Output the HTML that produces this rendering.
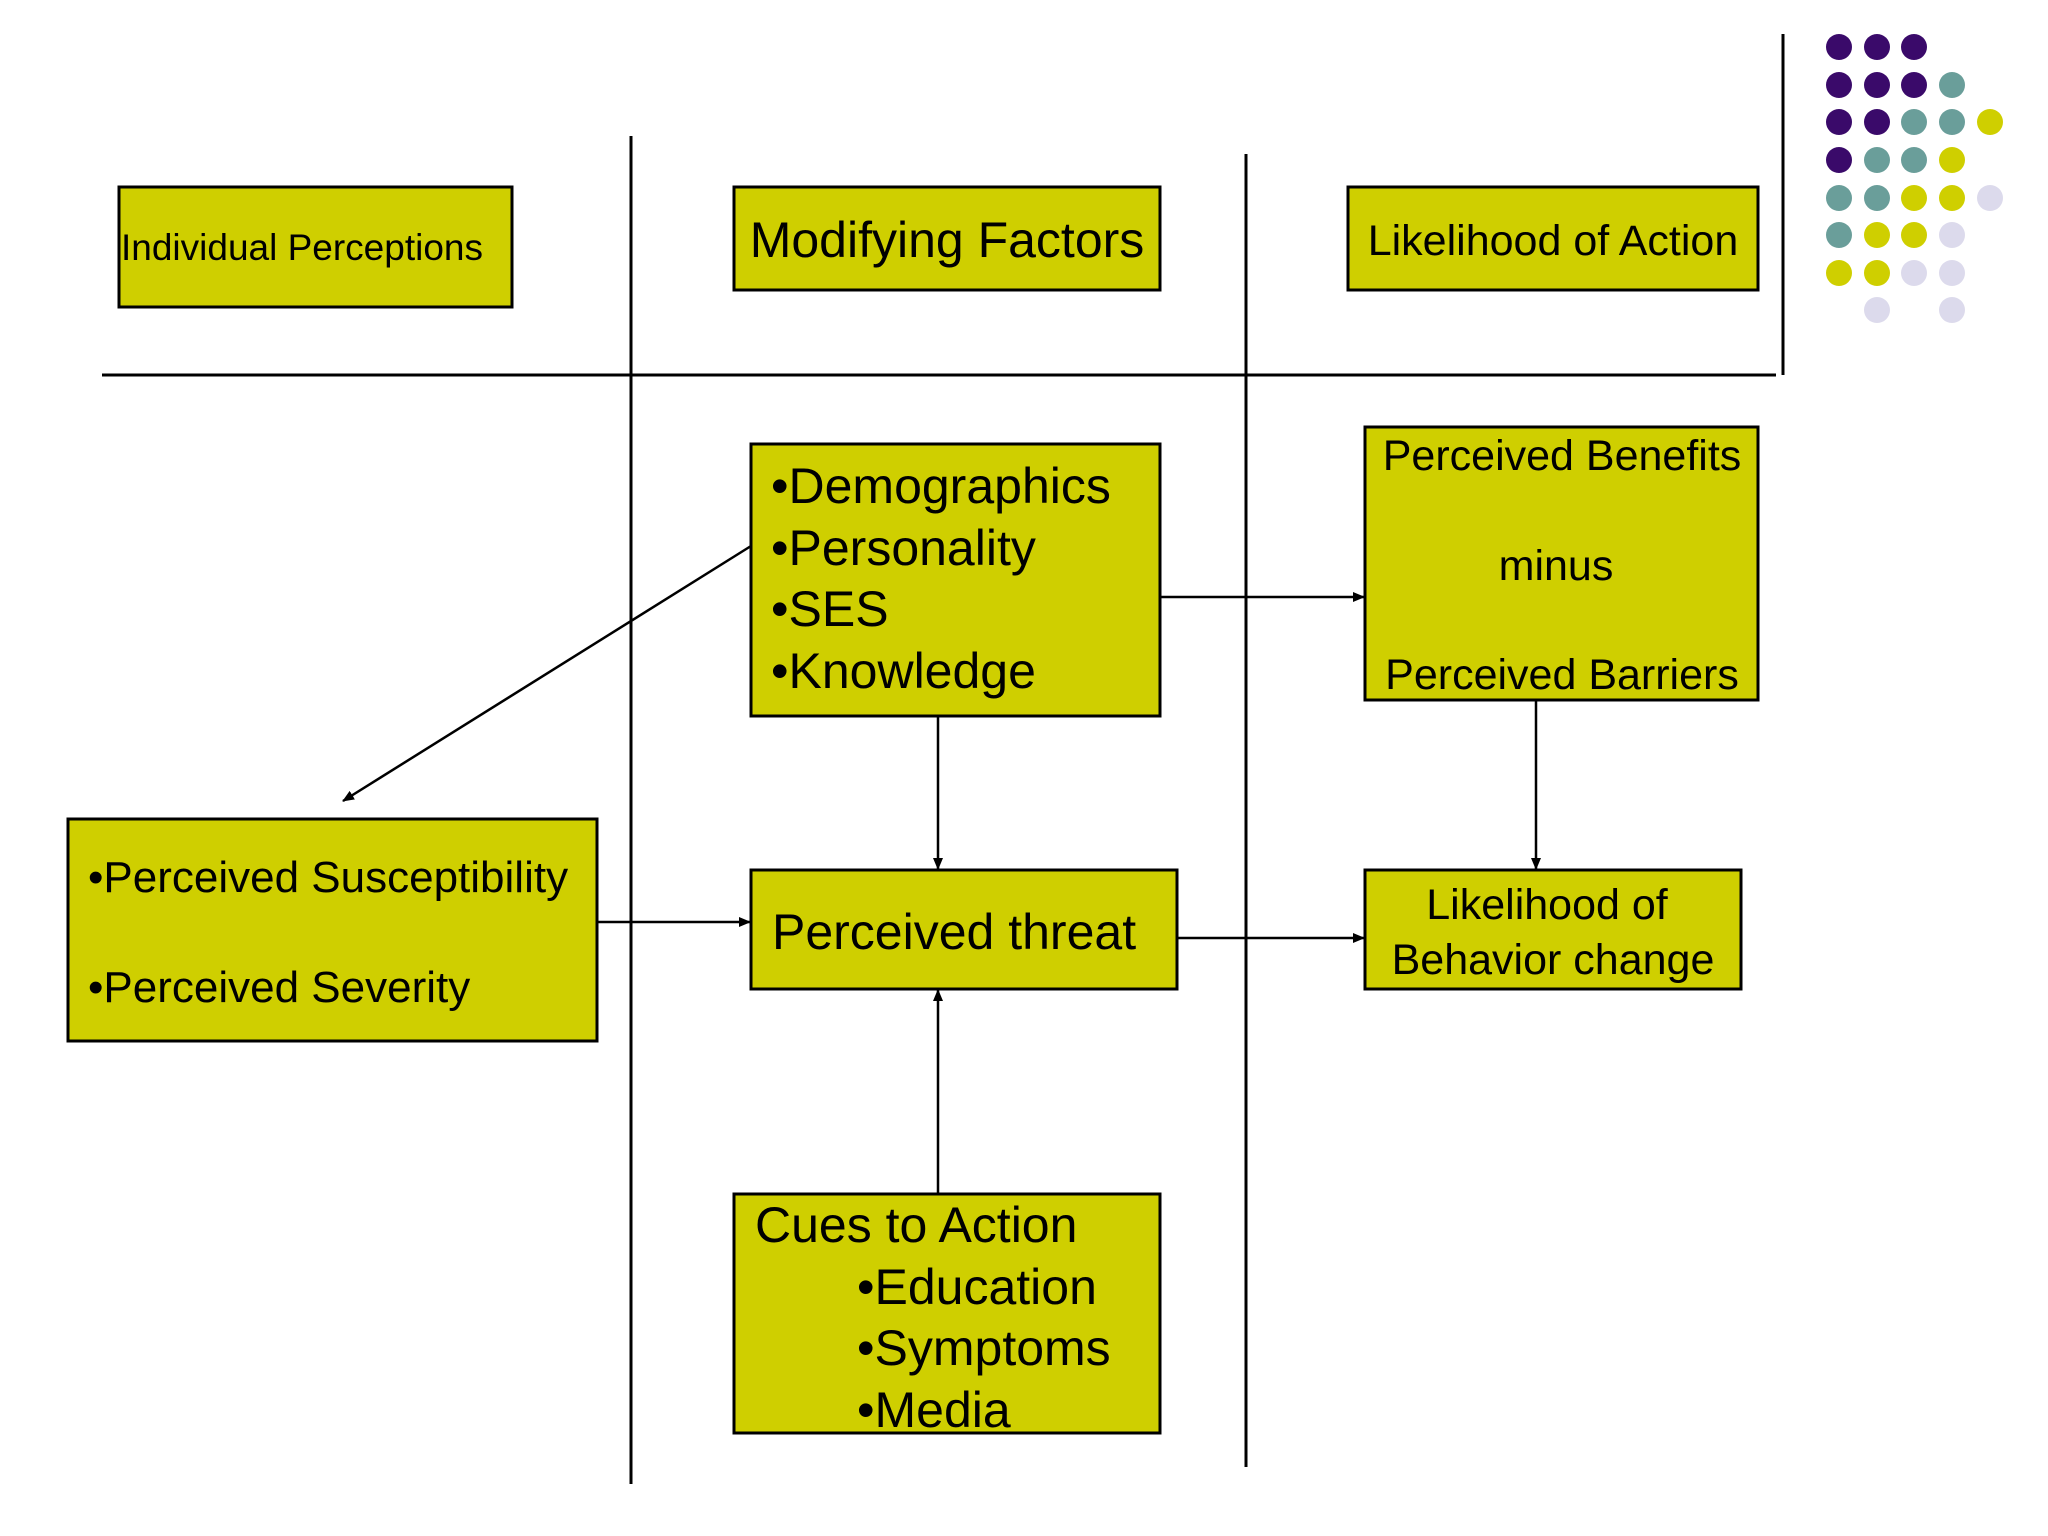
<!DOCTYPE html>
<html><head><meta charset="utf-8"><style>html,body{margin:0;padding:0;background:#fff}svg{display:block}text{font-family:"Liberation Sans",Arial,sans-serif;fill:#000}</style></head>
<body>
<svg width="2048" height="1536" viewBox="0 0 2048 1536" xmlns="http://www.w3.org/2000/svg">
<defs><marker id="a" markerWidth="12" markerHeight="12" refX="11" refY="6" orient="auto" markerUnits="userSpaceOnUse"><path d="M0,1 L12,6 L0,11 z" fill="#000"/></marker></defs>
<rect width="2048" height="1536" fill="#fff"/>
<g stroke="#000" stroke-width="3">
<line x1="102" y1="375" x2="1776" y2="375"/>
<line x1="631" y1="136" x2="631" y2="1484"/>
<line x1="1246" y1="154" x2="1246" y2="1467"/>
<line x1="1783" y1="34" x2="1783" y2="375"/>
</g>
<g fill="#3a0a6a"><circle cx="1839" cy="47" r="13"/><circle cx="1877" cy="47" r="13"/><circle cx="1914" cy="47" r="13"/>
<circle cx="1839" cy="85" r="13"/><circle cx="1877" cy="85" r="13"/><circle cx="1914" cy="85" r="13"/>
<circle cx="1839" cy="122" r="13"/><circle cx="1877" cy="122" r="13"/><circle cx="1839" cy="160" r="13"/></g>
<g fill="#6a9e9a"><circle cx="1952" cy="85" r="13"/><circle cx="1914" cy="122" r="13"/><circle cx="1952" cy="122" r="13"/>
<circle cx="1877" cy="160" r="13"/><circle cx="1914" cy="160" r="13"/><circle cx="1839" cy="198" r="13"/><circle cx="1877" cy="198" r="13"/><circle cx="1839" cy="235" r="13"/></g>
<g fill="#cfcf00"><circle cx="1990" cy="122" r="13"/><circle cx="1952" cy="160" r="13"/><circle cx="1914" cy="198" r="13"/><circle cx="1952" cy="198" r="13"/>
<circle cx="1877" cy="235" r="13"/><circle cx="1914" cy="235" r="13"/><circle cx="1839" cy="273" r="13"/><circle cx="1877" cy="273" r="13"/></g>
<g fill="#dcdaec"><circle cx="1990" cy="198" r="13"/><circle cx="1952" cy="235" r="13"/><circle cx="1914" cy="273" r="13"/><circle cx="1952" cy="273" r="13"/><circle cx="1877" cy="310" r="13"/><circle cx="1952" cy="310" r="13"/></g>
<g fill="#cfcf00" stroke="#000" stroke-width="3">
<rect x="119" y="187" width="393" height="120"/>
<rect x="734" y="187" width="426" height="103"/>
<rect x="1348" y="187" width="410" height="103"/>
<rect x="751" y="444" width="409" height="272"/>
<rect x="1365" y="427" width="393" height="273"/>
<rect x="68" y="819" width="529" height="222"/>
<rect x="751" y="870" width="426" height="119"/>
<rect x="1365" y="870" width="376" height="119"/>
<rect x="734" y="1194" width="426" height="239"/>
</g>
<g stroke="#000" stroke-width="2.5" marker-end="url(#a)">
<line x1="751" y1="546" x2="343" y2="801"/>
<line x1="1160" y1="597" x2="1364" y2="597"/>
<line x1="938" y1="716" x2="938" y2="869"/>
<line x1="1536" y1="700" x2="1536" y2="869"/>
<line x1="597" y1="922" x2="750" y2="922"/>
<line x1="1177" y1="938" x2="1364" y2="938"/>
<line x1="938" y1="1194" x2="938" y2="990"/>
</g>
<text x="121" y="260" font-size="37">Individual Perceptions</text>
<text x="947" y="257" font-size="50" text-anchor="middle">Modifying Factors</text>
<text x="1553" y="255" font-size="43" text-anchor="middle">Likelihood of Action</text>
<g font-size="50"><text x="771" y="503">•Demographics</text><text x="771" y="565">•Personality</text><text x="771" y="626">•SES</text><text x="771" y="688">•Knowledge</text></g>
<g font-size="43" text-anchor="middle"><text x="1562" y="470">Perceived Benefits</text><text x="1556" y="580">minus</text><text x="1562" y="689">Perceived Barriers</text></g>
<g font-size="44"><text x="88" y="892">•Perceived Susceptibility</text><text x="88" y="1002">•Perceived Severity</text></g>
<text x="772" y="949" font-size="50">Perceived threat</text>
<g font-size="43" text-anchor="middle"><text x="1547" y="919">Likelihood of</text><text x="1553" y="974">Behavior change</text></g>
<g font-size="50"><text x="755" y="1242">Cues to Action</text><text x="857" y="1304">•Education</text><text x="857" y="1365">•Symptoms</text><text x="857" y="1427">•Media</text></g>
</svg>
</body></html>
